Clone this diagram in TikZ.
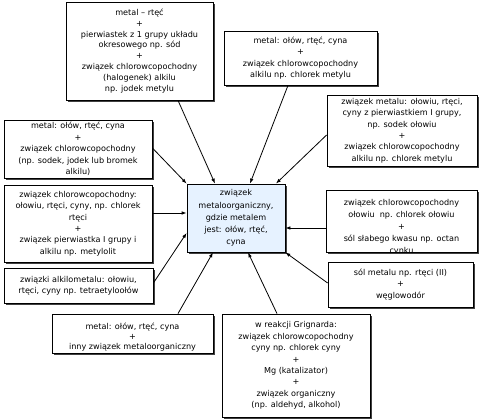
\documentclass[tikz,border=0pt]{standalone}
\usepackage{fontspec}
\setmainfont{DejaVu Sans}
\usetikzlibrary{arrows.meta,shadows}
\definecolor{centerfill}{HTML}{E6F2FF}
\tikzset{
  txt/.style={font=\fontsize{8.1}{11.4}\selectfont, align=center, inner sep=0pt},
  obox/.style={draw, line width=0.8pt, fill=white, inner sep=0pt,
    drop shadow={shadow xshift=1.7pt, shadow yshift=-1.7pt, fill=black!75, opacity=1},
    font=\fontsize{8.1}{11.4}\selectfont, align=center},
  cbox/.style={obox, fill=centerfill},
  arr/.style={-{Latex[length=5pt,width=3.6pt]}, line width=0.8pt}
}
\begin{document}
\begin{tikzpicture}[x=1pt,y=-1pt]
\useasboundingbox (0,0) rectangle (480,419);
% outer boxes
\node[obox, minimum width=147, minimum height=98, font=\fontsize{8.1}{10.9}\selectfont] (b1) at (139.5,51)
 {metal -- rtęć\\+\\pierwiastek z 1 grupy układu\\okresowego np. sód\\+\\związek chlorowcopochodny\\(halogenek) alkilu\\np. jodek metylu};
\node[obox, minimum width=153, minimum height=54] (b2) at (300.5,58)
 {metal: ołów, rtęć, cyna\\+\\związek chlorowcopochodny\\alkilu np. chlorek metylu};
\node[obox, minimum width=150, minimum height=71] (b3) at (402,130.5)
 {związek metalu: ołowiu, rtęci,\\cyny z pierwiastkiem I grupy,\\np. sodek ołowiu\\+\\związek chlorowcopochodny\\alkilu np. chlorek metylu};
\node[obox, minimum width=148, minimum height=58] (b4) at (78,149)
 {metal: ołów, rtęć, cyna\\+\\związek chlorowcopochodny\\(np. sodek, jodek lub bromek\\alkilu)};
\node[obox, minimum width=148, minimum height=77] (b5) at (78,223.5)
 {związek chlorowcopochodny:\\ołowiu, rtęci, cyny, np. chlorek\\rtęci\\+\\związek pierwiastka I grupy i\\alkilu np. metylolit};
\node[obox, minimum width=151, minimum height=62] (b6) at (401.5,221) {};
\begin{scope}
\clip ([xshift=0.5pt,yshift=0.5pt]b6.south west) rectangle ([xshift=-0.5pt,yshift=-0.5pt]b6.north east);
\node[txt, anchor=north, font=\fontsize{8.1}{12}\selectfont] (t6) at ([yshift=-9.5pt]b6.north)
 {związek chlorowcopochodny\\ołowiu\ \ np. chlorek ołowiu\\+\\sól słabego kwasu np. octan\\cynku};
\end{scope}
\node[obox, minimum width=145, minimum height=45] (b7) at (400.5,284.5)
 {sól metalu np. rtęci (II)\\+\\węglowodór};
\node[obox, minimum width=149, minimum height=35] (b8) at (78.5,285.5)
 {związki alkilometalu: ołowiu,\\rtęci, cyny np. tetraetyloołów};
\node[obox, minimum width=161, minimum height=39] (b9) at (132.5,333.5) {};
\begin{scope}
\clip ([xshift=0.5pt,yshift=0.5pt]b9.south west) rectangle ([xshift=-0.5pt,yshift=-0.5pt]b9.north east);
\node[txt, anchor=north, font=\fontsize{8.1}{10}\selectfont] (t9) at ([yshift=-9pt]b9.north)
 {metal: ołów, rtęć, cyna\\+\\inny związek metaloorganiczny};
\end{scope}
\node[obox, minimum width=148, minimum height=103] (b10) at (296,365.5)
 {w reakcji Grignarda:\\związek chlorowcopochodny\\cyny np. chlorek cyny\\+\\Mg (katalizator)\\+\\związek organiczny\\(np. aldehyd, alkohol)};
% center
\node[cbox, minimum width=98, minimum height=68, font=\fontsize{8.1}{12.2}\selectfont] (c) at (236,218)
 {związek\\metaloorganiczny,\\gdzie metalem\\jest: ołów, rtęć,\\cyna};
% arrows
\draw[arr] ([xshift=38.5pt]b1.south) -- ([xshift=-21pt]c.north);
\draw[arr] ([xshift=-12.5pt]b2.south) -- ([xshift=14pt]c.north);
\draw[arr] ([yshift=-4.5pt]b3.west) -- ([xshift=40pt]c.north);
\draw[arr] ([yshift=1pt]b4.east) -- (c.north west);
\draw[arr] ([yshift=10.5pt]b5.east) -- ([yshift=5pt]c.west);
\draw[arr] ([yshift=-7pt]b6.west) -- ([yshift=-10pt]c.east);
\draw[arr] ([yshift=1.5pt]b7.west) -- (c.south east);
\draw[arr] ([yshift=2.5pt]b8.east) -- ([yshift=-15pt]c.west);
\draw[arr] ([xshift=45.5pt]b9.north) -- ([xshift=-23pt]c.south);
\draw[arr] ([xshift=-19pt]b10.north) -- ([xshift=12pt]c.south);
\end{tikzpicture}
\end{document}
